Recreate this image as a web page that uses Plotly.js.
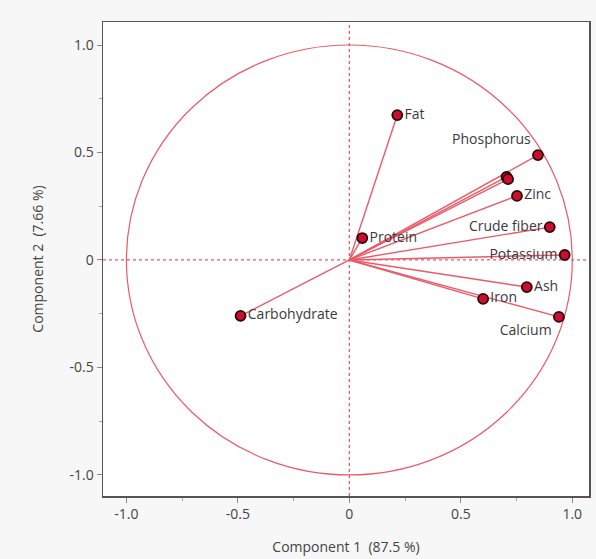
<!DOCTYPE html>
<html>
<head>
<meta charset="utf-8">
<script src="https://cdn.plot.ly/plotly-3.0.1.min.js"></script>
<style>
html,body{margin:0;padding:0;background:#f7f7f7;}
#chart{width:596px;height:559px;}
</style>
</head>
<body>
<div id="chart"></div>
<script>
var variables = ["Fat","Phosphorus","","","Zinc","Crude fiber","Potassium","Ash","Iron","Calcium","Protein","Carbohydrate"];
var comp1 = [0.215, 0.846, 0.705, 0.712, 0.752, 0.899, 0.966, 0.796, 0.600, 0.940, 0.058, -0.488];
var comp2 = [0.674, 0.488, 0.386, 0.376, 0.298, 0.153, 0.023, -0.126, -0.181, -0.265, 0.102, -0.260];
var labelPos = ["middle right","top left","middle right","middle right","middle right","middle left","middle left","middle right","middle right","bottom left","middle right","middle right"];
var tickVals = [-1, -0.5, 0, 0.5, 1];
var tickText = ["-1.0", "-0.5", "0", "0.5", "1.0"];
var xTitle = "Component 1  (87.5 %)";
var yTitle = "Component 2  (7.66 %)";

var lx = [], ly = [];
for (var i = 0; i < comp1.length; i++) {
  lx.push(0, comp1[i], null);
  ly.push(0, comp2[i], null);
}
var red = "#eb5a68";
var fnt = "Open Sans, Noto Sans, sans-serif";
var traces = [
  {x: lx, y: ly, mode: "lines", type: "scatter", line: {color: red, width: 1.4}, hoverinfo: "skip"},
  {x: comp1, y: comp2, mode: "markers+text", type: "scatter", text: variables,
   textposition: labelPos,
   textfont: {family: fnt, size: 14, color: "#3a3a3a"},
   marker: {size: 10, color: "#c8102e", line: {color: "#2a0508", width: 1.8}}}
];
var axBase = {
  range: [-1.105, 1.075], tickvals: tickVals, ticktext: tickText,
  ticks: "outside", ticklen: 5, tickcolor: "#888", showgrid: false, zeroline: false,
  showline: true, linecolor: "#555", linewidth: 1.5, mirror: true,
  tickfont: {family: fnt, size: 14, color: "#444"},
  minor: {tickvals: [-0.75, -0.25, 0.25, 0.75], ticks: "outside", ticklen: 3, tickcolor: "#aaa"}
};
var xa = Object.assign({}, axBase, {title: {text: xTitle, font: {family: fnt, size: 14, color: "#444"}, standoff: 20}});
var ya = Object.assign({}, axBase, {range: [-1.098, 1.107], title: {text: yTitle, font: {family: fnt, size: 14, color: "#444"}, standoff: 22}});
var layout = {
  width: 596, height: 559,
  margin: {l: 103, r: 7, t: 22, b: 63},
  paper_bgcolor: "#f7f7f7", plot_bgcolor: "#ffffff",
  showlegend: false,
  xaxis: xa, yaxis: ya,
  shapes: [
    {type: "circle", xref: "x", yref: "y", x0: -1, x1: 1, y0: -1, y1: 1, line: {color: red, width: 1.2}, layer: "below"},
    {type: "line", xref: "x", yref: "paper", x0: 0, x1: 0, y0: 0, y1: 1, line: {color: red, width: 1.3, dash: "dot"}, layer: "below"},
    {type: "line", xref: "paper", yref: "y", x0: 0, x1: 1, y0: 0, y1: 0, line: {color: red, width: 1.3, dash: "dot"}, layer: "below"}
  ]
};
Plotly.newPlot("chart", traces, layout, {displayModeBar: false, staticPlot: true});
</script>
</body>
</html>
